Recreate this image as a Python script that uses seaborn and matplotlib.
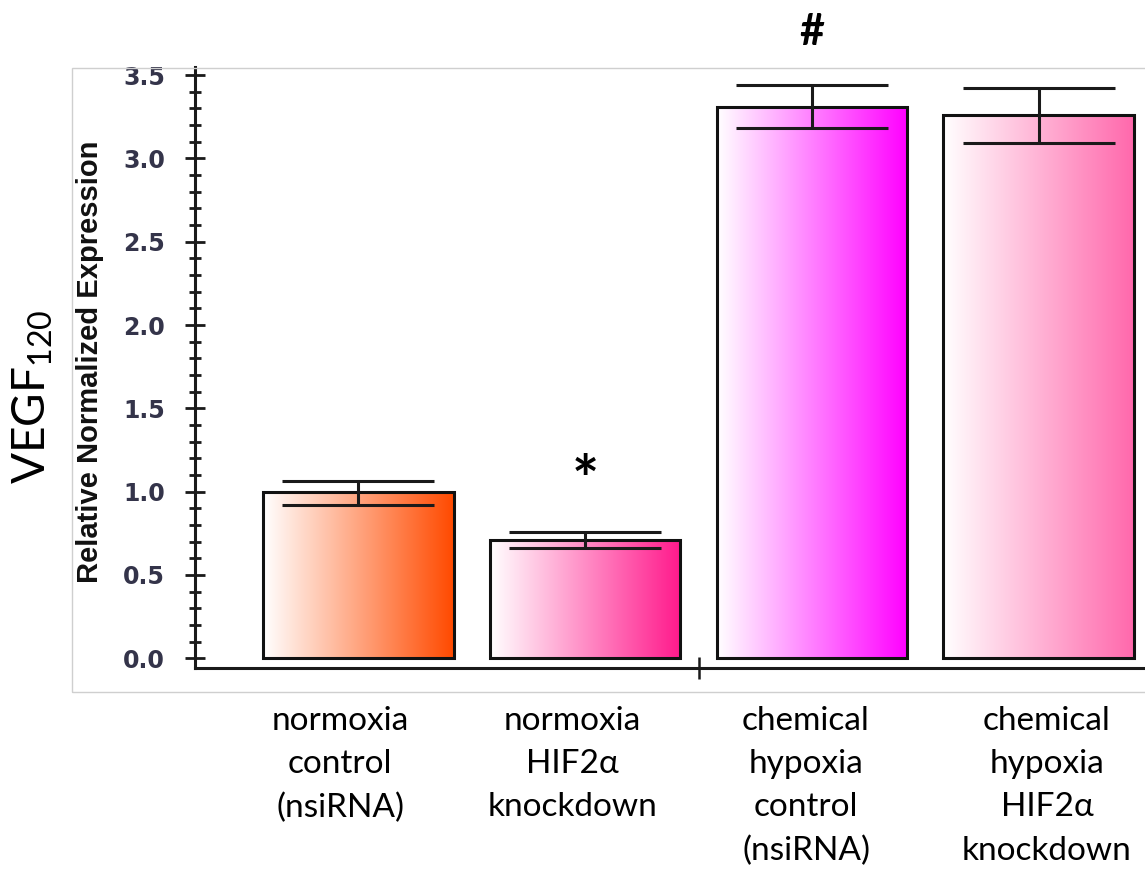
import numpy as np
import pandas as pd
import matplotlib
matplotlib.use("Agg")
import matplotlib.pyplot as plt
from matplotlib.colors import LinearSegmentedColormap
from matplotlib.patches import Rectangle
from matplotlib.ticker import MultipleLocator, FormatStrFormatter
import seaborn as sns

# ---- data -------------------------------------------------------------
categories = [
    "normoxia\ncontrol\n(nsiRNA)",
    "normoxia\nHIF2α\nknockdown",
    "chemical\nhypoxia\ncontrol\n(nsiRNA)",
    "chemical\nhypoxia\nHIF2α\nknockdown",
]
expression = [1.00, 0.71, 3.31, 3.26]
err_upper = [0.065, 0.05, 0.13, 0.16]
err_lower = [0.08, 0.05, 0.13, 0.17]
bar_end_colors = ["#ff4a00", "#ff1a8c", "#ff00ff", "#ff68ac"]
y_tick_values = [0.0, 0.5, 1.0, 1.5, 2.0, 2.5, 3.0, 3.5]
markers = ["", "*", "#", ""]

# ---- style ------------------------------------------------------------
sns.set_theme(style="white")
plt.rcParams["font.family"] = ["Lato", "DejaVu Sans"]
plt.rcParams["mathtext.default"] = "regular"

W, H = 1145, 871
fig = plt.figure(figsize=(W / 100, H / 100), dpi=100)
fig.patch.set_facecolor("white")

# inner panel frame
fig.add_artist(Rectangle((72 / W, 1 - 692 / H), 1.2, (692 - 68) / H,
                         transform=fig.transFigure, fill=False,
                         edgecolor="#cfcfcf", linewidth=1.0))

ax = fig.add_axes([195 / W, 1 - 668.3 / H, 1 - 195 / W, (668.3 - 67) / H])
ax.set_facecolor("none")

df = pd.DataFrame({"group": categories, "expr": expression})
sns.barplot(data=df, x="group", y="expr", hue="group", palette=bar_end_colors,
            legend=False, width=0.84, errorbar=None, ax=ax)

# gradient fill: white on the left to the group colour on the right
bars = [p for p in ax.patches if isinstance(p, Rectangle)][:len(categories)]
grad = np.linspace(0, 1, 256).reshape(1, -1)
for patch, col in zip(bars, bar_end_colors):
    x0, y0 = patch.get_x(), patch.get_y()
    w, h = patch.get_width(), patch.get_height()
    cmap = LinearSegmentedColormap.from_list("g", ["#ffffff", col])
    im = ax.imshow(grad, extent=[x0, x0 + w, y0, y0 + h], cmap=cmap,
                   aspect="auto", interpolation="bilinear", zorder=1)
    im.set_clip_path(patch)
    patch.set_facecolor("none")
    patch.set_edgecolor("#111111")
    patch.set_linewidth(2.2)
    patch.set_zorder(2)

ax.errorbar(range(len(categories)), expression, yerr=[err_lower, err_upper],
            fmt="none", ecolor="#1a1a1a", elinewidth=2.2, capsize=55,
            capthick=2.2, zorder=3)

ax.set_xlim(-0.721, 3.469)
ax.set_ylim(-0.06, 3.549)

# axes styling
for s in ["top", "right"]:
    ax.spines[s].set_visible(False)
for s in ["left", "bottom"]:
    ax.spines[s].set_linewidth(2.2)
    ax.spines[s].set_color("#1a1a1a")

ax.set_yticks(y_tick_values)
ax.yaxis.set_major_formatter(FormatStrFormatter("%.1f"))
ax.yaxis.set_minor_locator(MultipleLocator(0.1))
ax.tick_params(axis="y", which="major", direction="inout", length=15,
               width=2.0, color="#1a1a1a", pad=14, labelsize=17,
               labelcolor="#34344a", left=True)
ax.tick_params(axis="y", which="minor", direction="inout", length=8.5,
               width=2.0, color="#1a1a1a", left=True)
for lab in ax.get_yticklabels():
    lab.set_fontfamily("DejaVu Sans")
    lab.set_fontweight("bold")

ax.set_xticks([1.5])
ax.set_xticklabels([""])
ax.tick_params(axis="x", which="major", direction="inout", length=16,
               width=1.8, color="#1a1a1a", bottom=True)
ax.set_xlabel("")

ax.set_ylabel("Relative Normalized Expression", fontsize=21,
              fontweight="bold", family="Liberation Sans", color="#111111")
ax.yaxis.set_label_coords((104 - 195) / (W - 195), (668.3 - 362) / (668.3 - 67))

# significance markers above the bars
for i, m in enumerate(markers):
    if not m:
        continue
    if m == "*":
        ax.text(i, expression[i] + err_upper[i] + 0.18, m, ha="center",
                va="baseline", fontsize=46, fontweight="bold", color="black")
    else:
        ax.text(i, 3.68, m, ha="center", va="baseline", fontsize=31,
                fontweight="bold", color="black", clip_on=False)

# group labels under the axis
label_x = [340, 572, 806, 1047]
for lx, txt in zip(label_x, categories):
    fig.text(lx / W, 1 - 706 / H, txt, ha="center", va="top",
             fontsize=24, linespacing=1.55, color="black",
             multialignment="center")

# outer axis title
fig.text(33 / W, 1 - 397 / H, "VEGF$_{120}$", rotation=90, ha="center",
         va="center", fontsize=33, color="black")

fig.savefig("out.png", dpi=100, facecolor="white")
